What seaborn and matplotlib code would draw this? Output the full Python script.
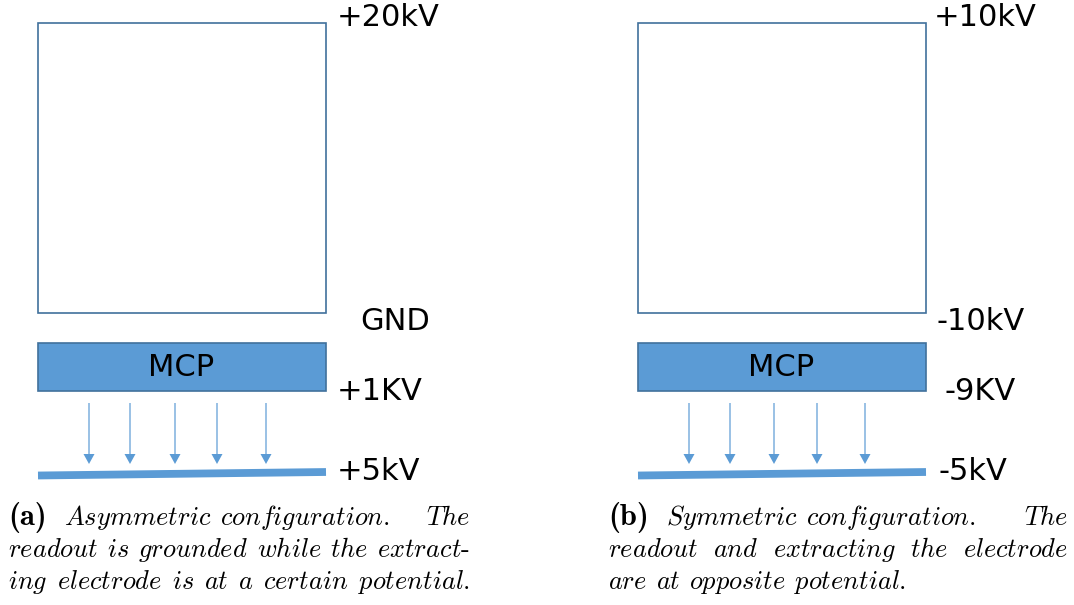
import numpy as np
import pandas as pd
import seaborn as sns
import matplotlib.pyplot as plt
from matplotlib.patches import Rectangle

sns.set_theme(style="white")
plt.rcParams['font.family'] = ['DejaVu Sans']
plt.rcParams['text.color'] = 'black'
plt.rcParams['mathtext.fontset'] = 'cm'

# texts of the two panels
panel_offsets = [0, 600]
top_labels = ["+20kV", "+10kV"]
gap_labels = ["GND", "-10kV"]
mcp_labels = ["+1KV", "-9KV"]
readout_labels = ["+5kV", "-5kV"]
mcp_text = "MCP"

# electron arrows (x inside each panel)
arrow_x = [[89, 130, 175, 217, 266], [89, 130, 174, 217, 265]]

# captions, one list of words per line, (word, bold)
captions = [
    [[("(a)", True), ("Asymmetric", False), ("configuration.", False), ("The", False)],
     [("readout", False), ("is", False), ("grounded", False), ("while", False), ("the", False), ("extract-", False)],
     [("ing", False), ("electrode", False), ("is", False), ("at", False), ("a", False), ("certain", False), ("potential.", False)]],
    [[("(b)", True), ("Symmetric", False), ("configuration.", False), ("The", False)],
     [("readout", False), ("and", False), ("extracting", False), ("the", False), ("electrode", False)],
     [("are", False), ("at", False), ("opposite", False), ("potential.", False)]],
]
# how the spare room is shared between the gaps of each line
stretch = [
    [[0, 0, 1], None, None],
    [[0, 0, 1], None, "left"],
]

blue = "#5b9bd5"
edge = "#41719c"

fig = plt.figure(figsize=(10.74, 6.05), dpi=100)
ax = fig.add_axes([0, 0, 1, 1])
ax.set_xlim(0, 1074)
ax.set_ylim(605, 0)
ax.axis("off")

label_dx = [[337, 360, 337, 337], [934, 936, 944, 938]]

for i, off in enumerate(panel_offsets):
    # drift region
    ax.add_patch(Rectangle((off + 38, 23), 288, 290, fill=False, ec=edge, lw=1.2))
    # MCP
    ax.add_patch(Rectangle((off + 38, 343), 288, 48, fc=blue, ec=edge, lw=1.2))
    ax.text(off + 181, 368, mcp_text, ha="center", va="center", fontsize=22)
    # readout plane
    ro = pd.DataFrame({"x": [off + 38, off + 326], "y": [475.5, 472]})
    sns.lineplot(data=ro, x="x", y="y", ax=ax, color=blue, lw=5.6,
                 solid_capstyle="butt", legend=False)
    for xa in arrow_x[i]:
        ax.arrow(off + xa, 403, 0, 61, width=1.2, head_width=11, head_length=10,
                 length_includes_head=True, color=blue, ec="none")
    lx = label_dx[i]
    ax.text(lx[0], 18, top_labels[i], fontsize=22, va="center")
    ax.text(lx[1], 322, gap_labels[i], fontsize=22, va="center")
    ax.text(lx[2], 391, mcp_labels[i], fontsize=22, va="center")
    ax.text(lx[3], 471, readout_labels[i], fontsize=22, va="center")

ax.set_xlabel("")
ax.set_ylabel("")

# captions, justified by hand
fig.canvas.draw()
renderer = fig.canvas.get_renderer()
cap_x = [(8, 470), (608, 1068)]
baselines = [525, 557, 589]
space = 8.5
for i, lines in enumerate(captions):
    x0, x1 = cap_x[i]
    for j, words in enumerate(lines):
        arts = []
        for w, bold in words:
            if bold:
                a = ax.text(x0, baselines[j], w, fontsize=22, va="baseline",
                            family="cmb10")
            else:
                tail = ""
                if w.endswith("-"):
                    w, tail = w[:-1], "-"
                a = ax.text(x0, baselines[j], r"$\mathit{%s}$%s" % (w, tail),
                            fontsize=19, va="baseline", family="cmr10")
            arts.append(a)
        widths = [a.get_window_extent(renderer=renderer).width for a in arts]
        n = len(arts)
        gaps = [space] * (n - 1)
        if words[0][1]:
            gaps[0] = 17
        extra = x1 - x0 - sum(widths) - sum(gaps)
        wts = stretch[i][j]
        if wts == "left":
            wts = [0] * (n - 1)
            extra = 0
        elif wts is None:
            wts = [1] * (n - 1)
        tot = sum(wts) if sum(wts) else 1
        x = x0
        for k, (a, wd) in enumerate(zip(arts, widths)):
            a.set_x(x)
            if k < n - 1:
                x += wd + gaps[k] + extra * wts[k] / tot

fig.savefig("out.png", dpi=100)
